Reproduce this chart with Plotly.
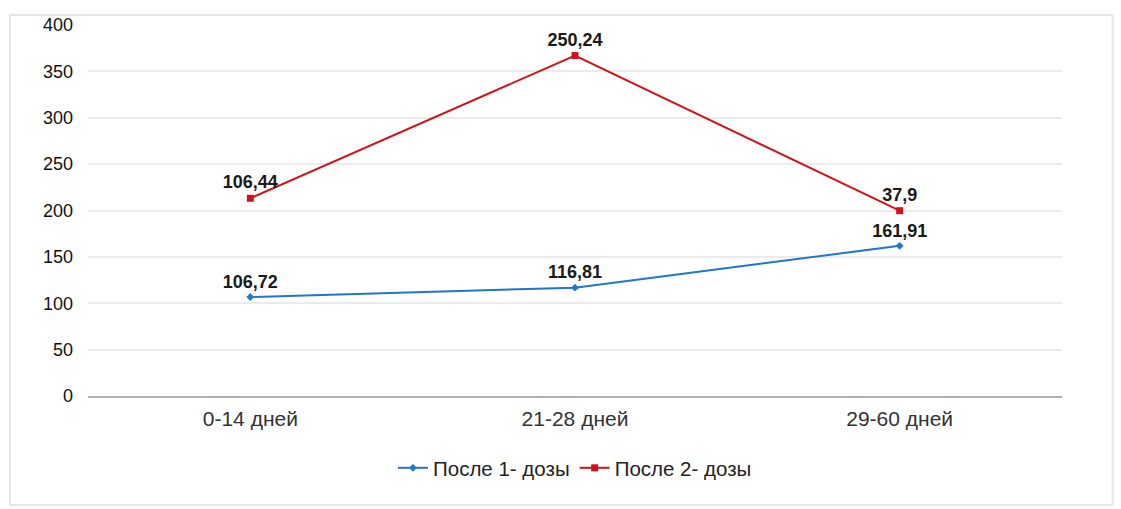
import plotly.graph_objects as go

categories = ["0-14 дней", "21-28 дней", "29-60 дней"]
dose1 = [106.72, 116.81, 161.91]
dose2 = [106.44, 250.24, 37.9]
series_names = ["После 1- дозы", "После 2- дозы"]
y_ticks = [0, 50, 100, 150, 200, 250, 300, 350, 400]

def fmt(v):
    return str(v).replace(".", ",")

# second series is drawn stacked on top of the first (stacked line chart)
dose2_stacked = [a + b for a, b in zip(dose1, dose2)]

label_font = dict(family="Liberation Sans", size=18, color="#1a1a1a", weight="bold")

fig = go.Figure()
fig.add_trace(go.Scatter(
    x=categories, y=dose1, name=series_names[0], mode="lines+markers+text",
    line=dict(color="#1f77c8", width=2),
    marker=dict(symbol="diamond", size=6, color="#1f77c8"),
    text=[fmt(v) for v in dose1], textposition="top center",
    textfont=label_font,
))
fig.add_trace(go.Scatter(
    x=categories, y=dose2_stacked, name=series_names[1], mode="lines+markers+text",
    line=dict(color="#d0121b", width=2),
    marker=dict(symbol="square", size=7, color="#d0121b"),
    text=[fmt(v) for v in dose2], textposition="top center",
    textfont=label_font,
))

fig.update_layout(
    width=1121, height=509,
    margin=dict(l=88, r=59, t=25, b=113),
    paper_bgcolor="white", plot_bgcolor="white",
    font=dict(family="Liberation Sans", size=18, color="#222"),
    showlegend=True,
    legend=dict(orientation="h", x=0.5, xanchor="center", y=-0.194, yanchor="middle",
                font=dict(size=20.5, color="#222"), itemwidth=30),
    xaxis=dict(range=[-0.5, 2.5], showgrid=False, showline=True, linecolor="#b0b0b0",
               linewidth=1.5, ticks="", tickfont=dict(size=21, color="#333"),
               ticklabelstandoff=3, fixedrange=True),
    yaxis=dict(range=[0, 400], tickvals=y_ticks, showgrid=True, gridcolor="#ebebeb",
               gridwidth=1.5, zeroline=False, showline=False, ticks="",
               tickfont=dict(size=18, color="#111"), ticklabelstandoff=14),
    shapes=[dict(type="rect", xref="paper", yref="paper", x0=-0.080, x1=1.052,
                 y0=-0.294, y1=1.027, line=dict(color="#e6e6e6", width=2),
                 fillcolor="rgba(0,0,0,0)", layer="below")],
)

fig.write_html("out.html")
